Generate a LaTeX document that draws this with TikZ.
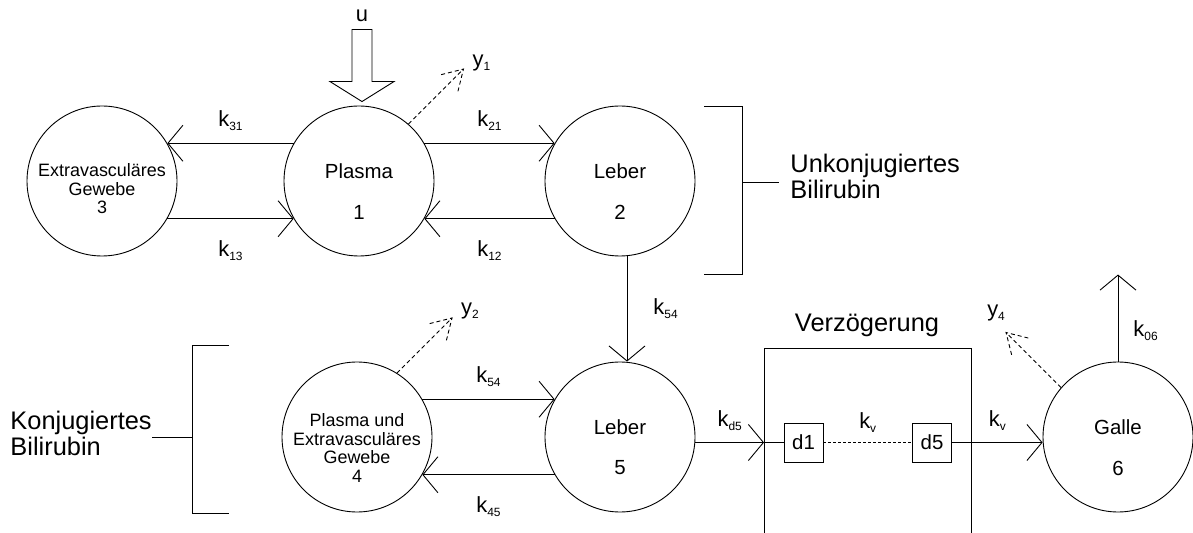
\documentclass[tikz,border=0pt]{standalone}
\usepackage{fontspec}
\setmainfont{Liberation Sans}
\usetikzlibrary{arrows.meta,calc,positioning}

% rate constant with lowered index
\newcommand{\rate}[2]{#1\raisebox{-4bp}{\fontsize{12}{12}\selectfont #2}}

\begin{document}
\begin{tikzpicture}[x=1bp,y=-1bp,line width=0.9bp,
        comp/.style={circle,draw,minimum size=150bp,inner sep=0pt},
        compname/.style={font=\fontsize{20.5}{22}\selectfont,inner sep=0pt},
        compsmall/.style={font=\fontsize{18}{18.5}\selectfont,align=center,inner sep=0pt},
        ratelbl/.style={font=\fontsize{22}{24}\selectfont,inner sep=0pt},
        biglbl/.style={font=\fontsize{25.5}{26}\selectfont,align=left,inner sep=0pt},
        delay/.style={draw,minimum size=39bp,inner sep=0pt,font=\fontsize{20.5}{22}\selectfont},
        flow/.style={-{Straight Barb[length=15bp,width=36bp]}},
        probe/.style={dash pattern=on 4bp off 3bp}]

        \useasboundingbox (0,0) rectangle (1193,533);

        % Compartments
        \node[comp] (c3) at (102,181) {};
        \node[compsmall] (c3t) at ([yshift=-8bp]c3.center) {Extravasculäres\\Gewebe\\3};
        \node[comp] (c1) at (359,181) {};
        \node[compname] (c1n) at ([yshift=10bp]c1.center) {Plasma};
        \node[compname] (c1k) at ([yshift=-31bp]c1.center) {1};
        \node[comp] (c2) at (620,181) {};
        \node[compname] (c2n) at ([yshift=10bp]c2.center) {Leber};
        \node[compname] (c2k) at ([yshift=-31bp]c2.center) {2};
        \node[comp] (c4) at (357,437) {};
        \node[compsmall] (c4t) at ([yshift=-11bp]c4.center) {Plasma und\\Extravasculäres\\Gewebe\\4};
        \node[comp] (c5) at (620,437) {};
        \node[compname] (c5n) at ([yshift=10bp]c5.center) {Leber};
        \node[compname] (c5k) at ([yshift=-31bp]c5.center) {5};
        \node[comp] (c6) at (1118,437) {};
        \node[compname] (c6n) at ([yshift=10bp]c6.center) {Galle};
        \node[compname] (c6k) at ([yshift=-31bp]c6.center) {6};

        % Input
        \draw ([xshift=3bp,yshift=4bp]c1.north) coordinate (utip) -- ++(-32,-20) -- ++(22,0)
            -- ++(0,-52) -- ++(20,0) -- ++(0,52) -- ++(22,0) -- cycle;
        \node[ratelbl] (u) at (362,16) {u};

        % Exchange between compartments
        \draw[flow] (c1.150) -- (c3.30) node[ratelbl,midway,above=12bp]{\rate{k}{31}};
        \draw[flow] (c3.-30) -- (c1.210) node[ratelbl,midway,below=21bp]{\rate{k}{13}};
        \draw[flow] (c1.30) -- (c2.150) node[ratelbl,midway,above=12bp]{\rate{k}{21}};
        \draw[flow] (c2.210) -- (c1.-30) node[ratelbl,midway,below=21bp]{\rate{k}{12}};
        \draw[flow] ([xshift=7bp]c2.south) -- ([xshift=7bp]c5.north) node[ratelbl,midway,right=26bp]{\rate{k}{54}};
        \draw[flow] (c4.30) -- (c5.150) node[ratelbl,midway,above=12bp]{\rate{k}{54}};
        \draw[flow] (c5.210) -- (c4.-30) node[ratelbl,midway,below=21bp]{\rate{k}{45}};

        % Measurements
        \draw[probe] (c1.49) -- ++(55,-55) coordinate (y1);
        \draw[probe] ($(y1)!23bp!31:(c1.49)$) -- (y1) -- ($(y1)!23bp!-31:(c1.49)$);
        \node[ratelbl] (y1l) at ([xshift=18bp,yshift=6bp]y1) {\rate{y}{1}};
        \draw[probe] (c4.58) -- ++(55,-55) coordinate (y2);
        \draw[probe] ($(y2)!23bp!31:(c4.58)$) -- (y2) -- ($(y2)!23bp!-31:(c4.58)$);
        \node[ratelbl] (y2l) at ([xshift=18bp,yshift=7bp]y2) {\rate{y}{2}};
        \draw[probe] (c6.139) -- ++(-55,-55) coordinate (y4);
        \draw[probe] ($(y4)!23bp!31:(c6.139)$) -- (y4) -- ($(y4)!23bp!-31:(c6.139)$);
        \node[ratelbl] (y4l) at ([xshift=-10bp,yshift=20bp]y4) {\rate{y}{4}};

        % Delay chain
        \draw (764,533) |- (971,348) -- (971,533);
        \node[biglbl] (vz) at (867,325) {Verzögerung};
        \node[delay] (d1) at (803.5,442.5) {d1};
        \node[delay] (d5) at (932,442.5) {d5};
        \coordinate (vzin) at (764,442.5);
        \draw[flow] (c5.east |- d1) -- (vzin) node[ratelbl,midway,above=11bp]{\rate{k}{d5}};
        \draw (vzin) -- (d1);
        \draw[dash pattern=on 3bp off 2bp] (d1) -- (d5) node[ratelbl,midway,above=10bp]{\rate{k}{v}};
        \draw[flow] (d5) -- (d5 -| c6.west) node[ratelbl,midway,above=12bp]{\rate{k}{v}};

        % Elimination
        \draw[flow] (c6.north) -- ++(0,-87) node[ratelbl,pos=0.35,right=15bp]{\rate{k}{06}};

        % Brackets
        \draw (704,106) -| (742,274) -- (704,274);
        \coordinate (ub) at (742,182);
        \node[biglbl,anchor=west] (unkonj) at (790,176.5) {Unkonjugiertes\\Bilirubin};
        \draw (ub) -- ++(37,0);
        \draw (229,345) -| (192,513) -- (229,513);
        \coordinate (kb) at (192,437);
        \node[biglbl,anchor=west] (konj) at (10,433) {Konjugiertes\\Bilirubin};
        \draw (kb) -- (kb -| konj.east);

    \end{tikzpicture}
\end{document}
